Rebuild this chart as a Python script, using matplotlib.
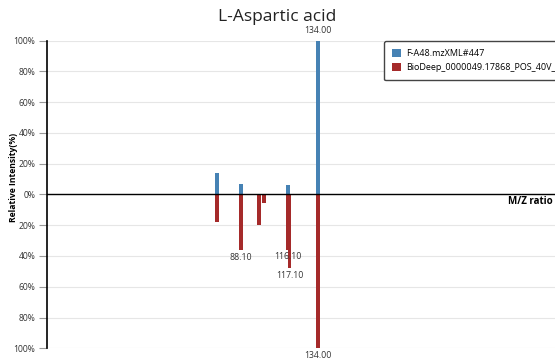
import matplotlib
matplotlib.use("Agg")
import matplotlib.pyplot as plt

plt.rcParams['font.family'] = ['Open Sans', 'DejaVu Sans']

title = "L-Aspartic acid"
query_name = "F-A48.mzXML#447"
ref_name = "BioDeep_0000049.17868_POS_40V_[M+H]+"

# query spectrum (drawn upwards)
query_mz = [74.0, 88.1, 116.1, 134.0]
query_int = [13.8, 6.5, 5.8, 100.0]

# reference spectrum (drawn downwards)
ref_mz = [74.0, 88.1, 99.0, 102.0, 116.1, 117.1, 134.0]
ref_int = [17.8, 36.3, 20.0, 5.8, 35.9, 48.0, 100.0]

# peaks that get an m/z label
query_labels = [134.0]
ref_labels = [88.1, 116.1, 117.1, 134.0]

yticks = [-100, -80, -60, -40, -20, 0, 20, 40, 60, 80, 100]
ytick_labels = [str(abs(t)) + "%" for t in yticks]

blue = "#4682b4"
red = "#a52a2a"

W, H = 555, 364
fig = plt.figure(figsize=(W / 100, H / 100), dpi=100)
ax = fig.add_axes([47 / W, 15.7 / H, 1 - 47 / W, (348.3 - 40.5) / H])

bw = 2.2
ax.bar(query_mz, query_int, width=bw, color=blue, label=query_name, zorder=3)
ax.bar(ref_mz, [-v for v in ref_int], width=bw, color=red, label=ref_name, zorder=3)

ax.set_xlim(-27.5, 275.3)
ax.set_ylim(-100, 100)
ax.set_yticks(yticks)
ax.set_yticklabels(ytick_labels, fontsize=6.2, color="#333333")
ax.tick_params(axis="y", length=6, width=0.8, color="#999999", pad=2.5)
ax.set_xticks([])
ax.grid(axis="y", color="#e6e6e6", linewidth=0.8, zorder=0)
for s in ["top", "right", "bottom"]:
    ax.spines[s].set_visible(False)
ax.spines["left"].set_linewidth(1.2)
ax.axhline(0, color="black", linewidth=1.0, zorder=4)

for mz, v in zip(query_mz, query_int):
    if mz in query_labels:
        ax.annotate("%.2f" % mz, (mz, v), xytext=(0, 4), textcoords="offset points",
                    ha="center", va="bottom", fontsize=6.3, color="#333333")
for mz, v in zip(ref_mz, ref_int):
    if mz in ref_labels:
        ax.annotate("%.2f" % mz, (mz, -v), xytext=(0, -2), textcoords="offset points",
                    ha="center", va="top", fontsize=6.3, color="#333333")

fig.text(277, H - 17, title, transform=None, ha="center", va="center", fontsize=12.5,
         color="#222222")
fig.text(14 / W, 1 - 177 / H, "Relative Intensity(%)", rotation=90, ha="center",
         va="center", fontsize=6.2, fontweight="bold")
fig.text(553 / W, 1 - 201 / H, "M/Z ratio", ha="right", va="center", fontsize=7,
         fontweight="bold")

leg = ax.legend(loc="upper left", bbox_to_anchor=(384 / W, 1 - 41 / H),
                bbox_transform=fig.transFigure, borderaxespad=0, fontsize=6.5,
                frameon=True, fancybox=True, edgecolor="#444444", handlelength=1.0,
                handleheight=1.0, handletextpad=0.5, borderpad=0.9, labelspacing=0.55)
leg.get_frame().set_linewidth(1.0)
leg.get_frame().set_alpha(1)

fig.savefig("out.png", dpi=100)
